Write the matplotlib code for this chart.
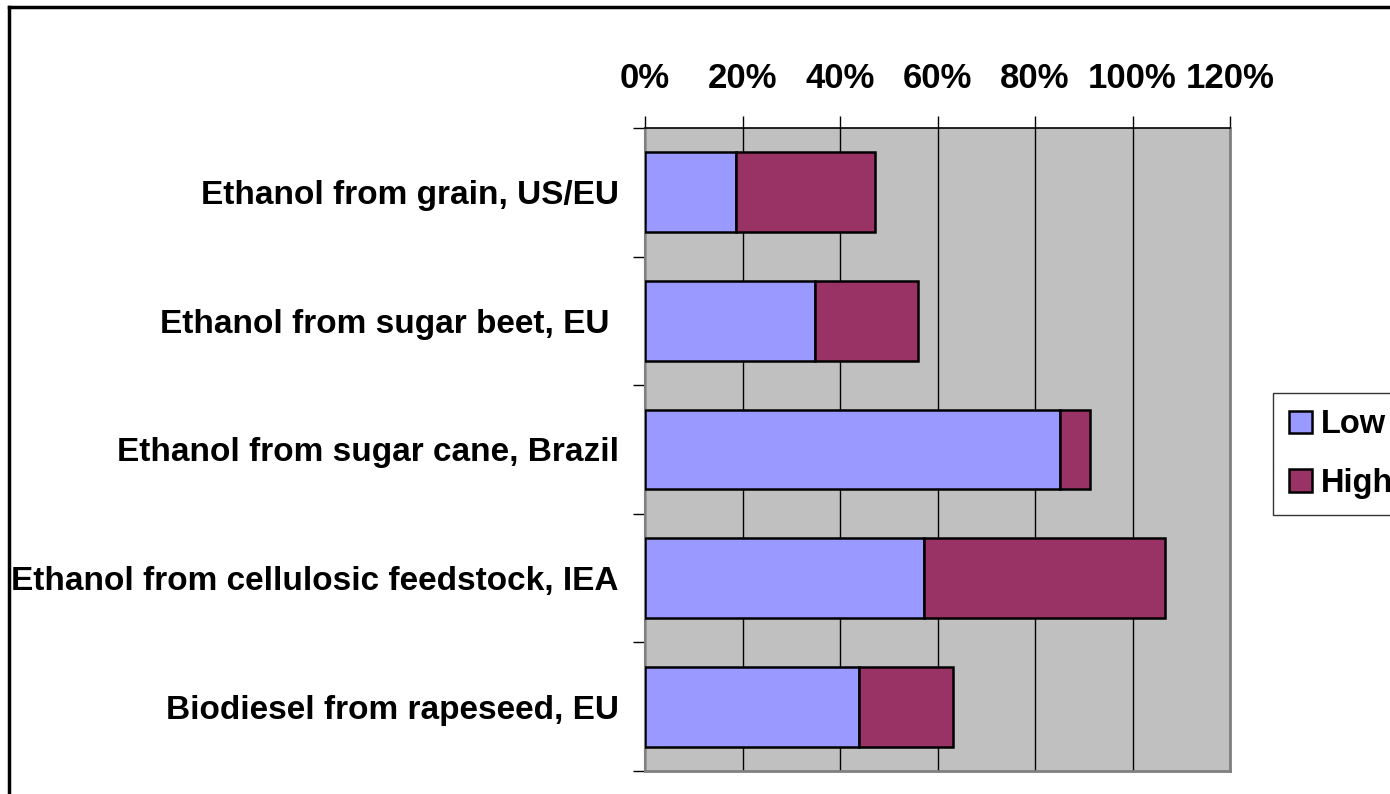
import numpy as np
import matplotlib

matplotlib.use('Agg')
import matplotlib.pyplot as plt
from matplotlib.lines import Line2D
from matplotlib.ticker import FuncFormatter, FixedLocator

plt.rcParams['font.family'] = ['Liberation Sans', 'DejaVu Sans']
plt.rcParams['font.weight'] = 'bold'

# --- data ---
categories = [
    "Ethanol from grain, US/EU",
    "Ethanol from sugar beet, EU ",
    "Ethanol from sugar cane, Brazil",
    "Ethanol from cellulosic feedstock, IEA",
    "Biodiesel from rapeseed, EU",
]
low = [18.7, 34.8, 85.1, 57.2, 43.9]
high = [28.4, 21.1, 6.1, 49.5, 19.3]
series_names = ["Low", "High"]
x_ticks = [0, 20, 40, 60, 80, 100, 120]

low_color = '#9999FF'
high_color = '#993366'


def main():
    fig = plt.figure(figsize=(13.9, 7.94), dpi=100)
    ax = fig.add_axes([645 / 1390, 1 - 771 / 794, (1230 - 645) / 1390, (771 - 128) / 794])

    y = np.arange(len(categories))
    ax.barh(y, low, height=0.62, color=low_color, edgecolor='black', linewidth=1.8,
            label=series_names[0], zorder=3)
    ax.barh(y, high, left=low, height=0.62, color=high_color, edgecolor='black',
            linewidth=1.8, label=series_names[1], zorder=3)

    ax.set_facecolor('#C0C0C0')
    ax.set_xlim(0, 120)
    ax.set_ylim(len(categories) - 0.5, -0.5)

    # x axis on top
    ax.xaxis.tick_top()
    ax.set_xticks(x_ticks)
    ax.xaxis.set_major_formatter(FuncFormatter(lambda v, p: f"{v:.0f}%"))
    ax.tick_params(axis='x', direction='out', length=8.5, width=1, pad=15,
                   labelsize=25, colors='black')
    ax.grid(axis='x', color='black', linewidth=1, zorder=1)
    ax.set_axisbelow(True)

    # y labels centred, tick marks at boundaries
    ax.set_yticks(y)
    ax.set_yticklabels(categories)
    ax.tick_params(axis='y', which='major', length=0, pad=19, labelsize=24)
    ax.yaxis.set_minor_locator(FixedLocator(np.arange(-0.5, len(categories), 1.0)))
    ax.tick_params(axis='y', which='minor', direction='out', length=8.5, width=1, color='black')

    for lab in ax.get_xticklabels() + ax.get_yticklabels():
        lab.set_fontweight('bold')

    ax.spines['top'].set_color('black')
    ax.spines['left'].set_color('#808080')
    ax.spines['right'].set_color('#808080')
    ax.spines['bottom'].set_color('#808080')
    ax.spines['right'].set_linewidth(2)
    ax.spines['bottom'].set_linewidth(2)
    ax.spines['left'].set_linewidth(1.5)
    ax.spines['top'].set_linewidth(1.2)

    leg = fig.legend(loc='upper left', bbox_to_anchor=(1273 / 1390, 1 - 393 / 794),
                     frameon=True, fancybox=False, prop={'size': 23.5, 'weight': 'bold'},
                     handlelength=0.68, handleheight=0.68, handletextpad=0.3,
                     labelspacing=0.85, borderpad=0.5, borderaxespad=0)
    leg.get_frame().set_edgecolor('black')
    leg.get_frame().set_linewidth(1)

    # outer chart border (left and top visible; right/bottom run off the image)
    fig.add_artist(Line2D([9 / 1390, 9 / 1390], [0, 1 - 7 / 794], color='black',
                          linewidth=2.5, transform=fig.transFigure))
    fig.add_artist(Line2D([9 / 1390, 1], [1 - 7 / 794, 1 - 7 / 794], color='black',
                          linewidth=2.5, transform=fig.transFigure))

    fig.savefig("out.png", dpi=100)
    plt.close(fig)


if __name__ == "__main__":
    main()
